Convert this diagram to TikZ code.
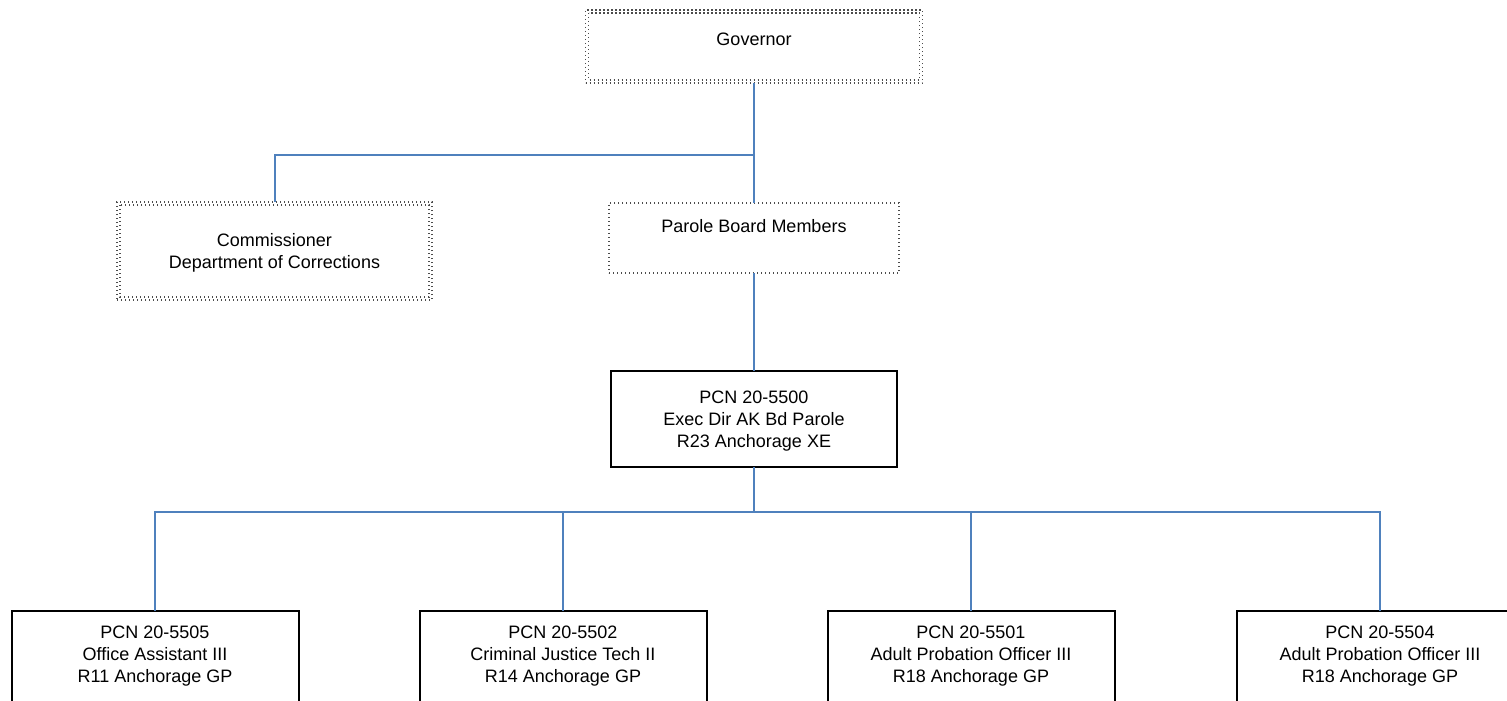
\documentclass[tikz,border=0pt]{standalone}
\usepackage{fontspec}
\setmainfont{Liberation Sans}
\begin{document}
\begin{tikzpicture}[x=1pt,y=1pt,
  conn/.style={draw=linkblue,line width=2pt},
  solidbox/.style={draw=black,line width=2pt,inner sep=0pt,outer sep=0pt,fill=none},
  dotbox/.style={draw=black!70,line width=1.1pt,dash pattern=on 1.1pt off 2.9pt,inner sep=0pt,outer sep=0pt},
  txt/.style={align=center,inner sep=0pt,font=\fontsize{18}{22}\selectfont}
]
\definecolor{linkblue}{RGB}{79,129,189}
\useasboundingbox (0,0) rectangle (1507,-701);
\clip (0,0) rectangle (1507,-701);
% Governor (double dotted)
\node[dotbox,minimum width=337,minimum height=73] (gov) at (754,-46.5) {};
\draw[dotbox] ([shift={(3,-3)}]gov.north west) rectangle ([shift={(-3,3)}]gov.south east);
\node[txt] (govt) at (754,-39) {Governor};
% Commissioner (double dotted)
\node[dotbox,minimum width=315,minimum height=98] (com) at (274.5,-251) {};
\draw[dotbox] ([shift={(3,-3)}]com.north west) rectangle ([shift={(-3,3)}]com.south east);
\node[txt] (comt) at (274.5,-253) {Commissioner\\Department of Corrections};
% Parole Board Members (single dotted)
\node[dotbox,minimum width=290,minimum height=70] (pbm) at (754,-238) {};
\node[txt] (pbmt) at (754,-226) {Parole Board Members};
% Exec Dir
\node[solidbox,minimum width=286,minimum height=96] (exec) at (754,-419) {};
\node[txt] (exect) at (754,-421) {PCN 20-5500\\Exec Dir AK Bd Parole\\R23 Anchorage XE};
% Bottom row
\node[solidbox,minimum width=287,minimum height=140,anchor=north] (b1) at (155,-611) {};
\node[solidbox,minimum width=287,minimum height=140,anchor=north] (b2) at (563,-611) {};
\node[solidbox,minimum width=287,minimum height=140,anchor=north] (b3) at (971,-611) {};
\node[solidbox,minimum width=287,minimum height=140,anchor=north] (b4) at (1380,-611) {};
\node[txt] (b1t) at (155,-656) {PCN 20-5505\\Office Assistant III\\R11 Anchorage GP};
\node[txt] (b2t) at (563,-656) {PCN 20-5502\\Criminal Justice Tech II\\R14 Anchorage GP};
\node[txt] (b3t) at (971,-656) {PCN 20-5501\\Adult Probation Officer III\\R18 Anchorage GP};
\node[txt] (b4t) at (1380,-656) {PCN 20-5504\\Adult Probation Officer III\\R18 Anchorage GP};
% connectors
\coordinate (j1) at (754,-155);
\coordinate (j2) at (754,-512);
\draw[conn] (gov.south) -- (pbm.north);
\draw[conn] (j1) -| (com.north);
\draw[conn] (pbm.south) -- (exec.north);
\draw[conn] (exec.south) -- (j2);
\draw[conn] (j2) -| (b1.north);
\draw[conn] (j2) -| (b2.north);
\draw[conn] (j2) -| (b3.north);
\draw[conn] (j2) -| (b4.north);
\end{tikzpicture}
\end{document}
